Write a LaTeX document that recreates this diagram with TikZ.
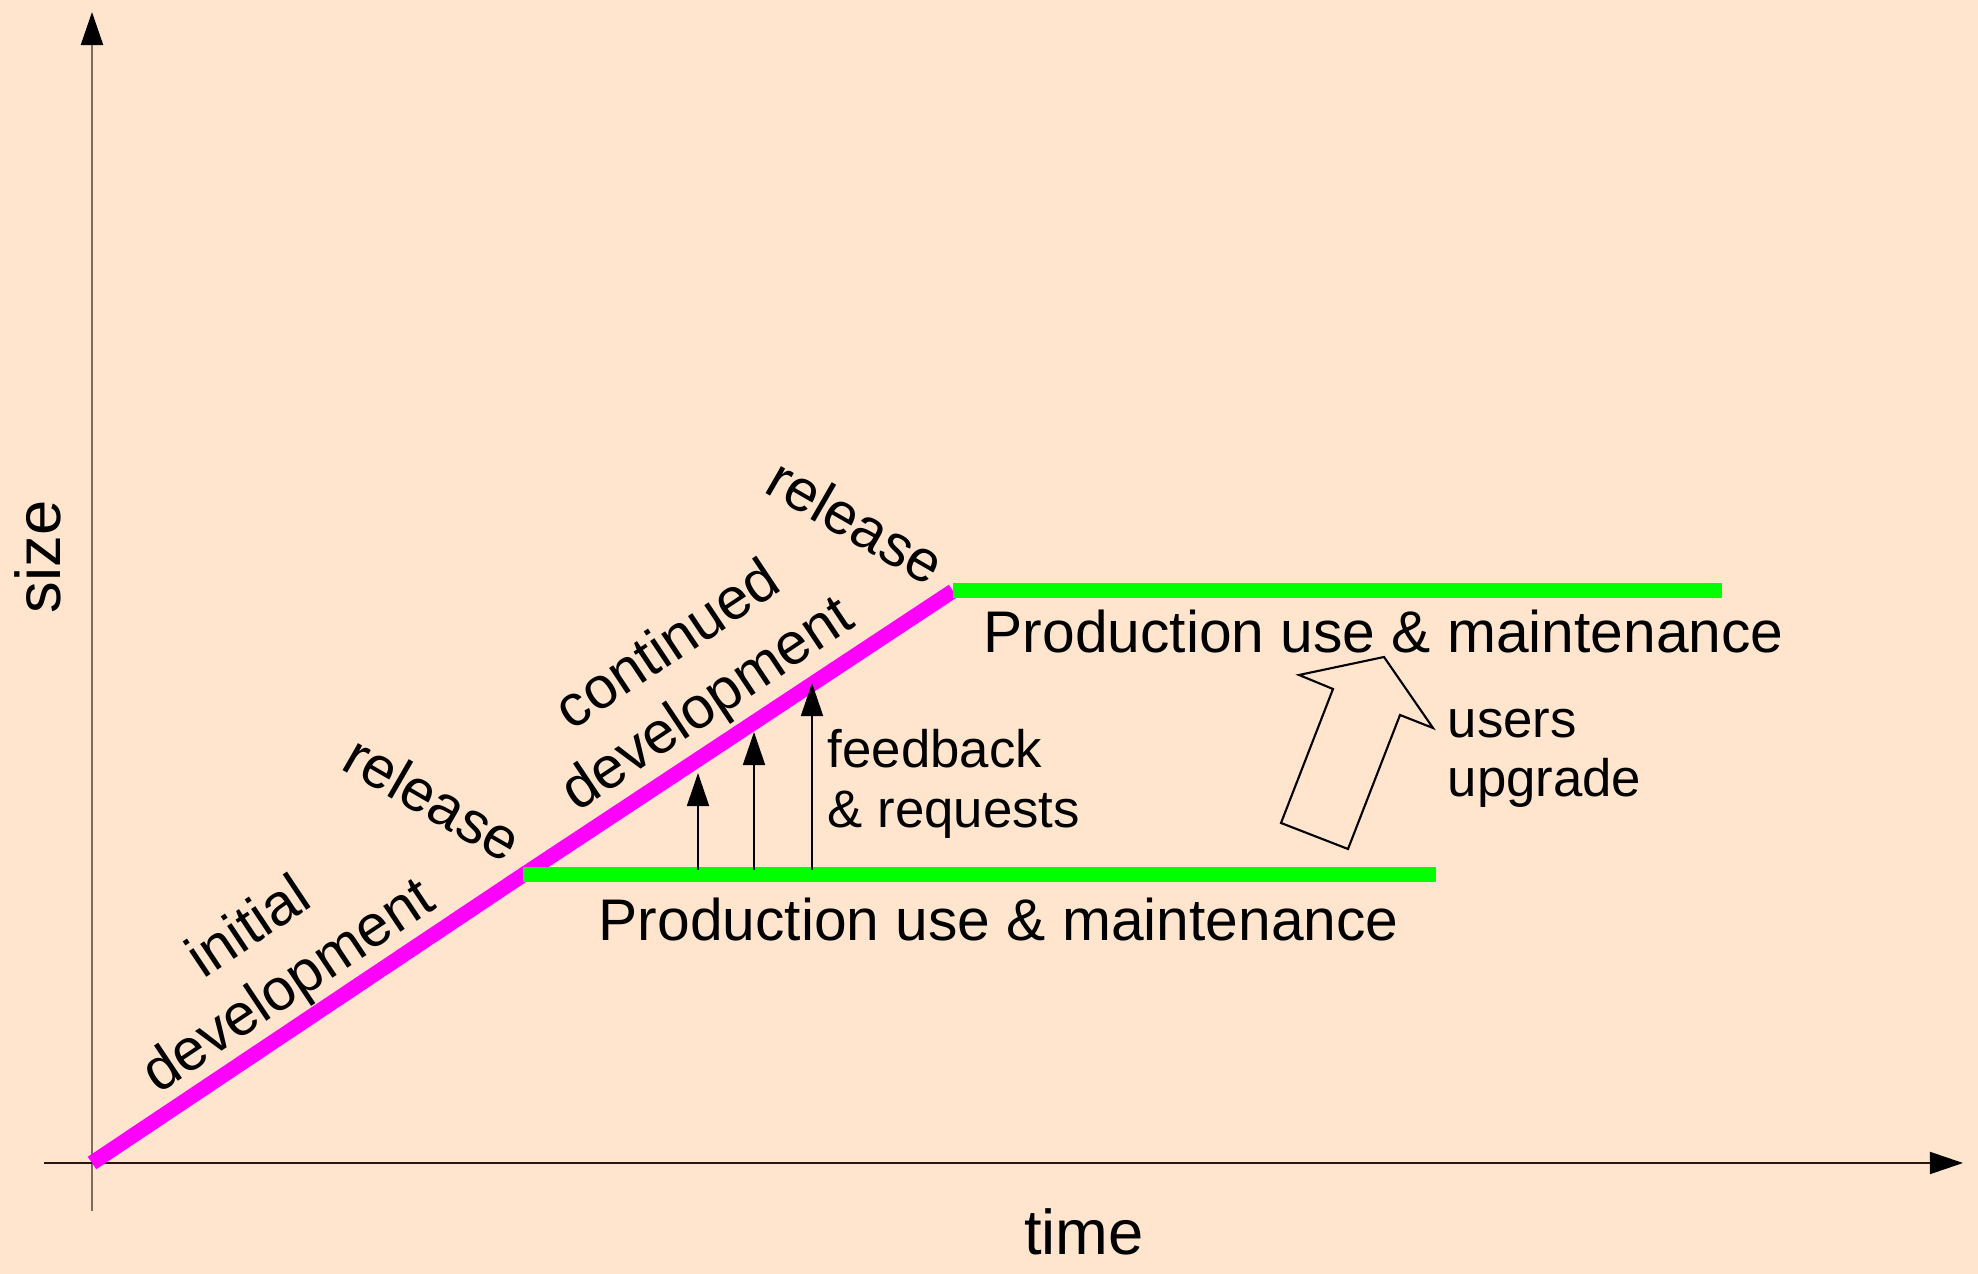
\documentclass[tikz,border=0pt]{standalone}
\usepackage{fontspec}
\setmainfont{Liberation Sans}
\usepackage{tikz}
\usetikzlibrary{arrows.meta,calc}

\definecolor{peach}{RGB}{255,229,206}
\definecolor{devmagenta}{RGB}{255,0,255}
\definecolor{prodgreen}{RGB}{0,255,0}
\definecolor{axisgray}{RGB}{122,110,98}
\definecolor{axisdark}{RGB}{40,22,18}

\tikzset{
  devline/.style={devmagenta,line width=0.15cm},
  prodline/.style={prodgreen,line width=0.15cm},
  biglabel/.style={font=\fontsize{16.7}{20}\selectfont,align=center,inner sep=0pt},
  smalllabel/.style={font=\fontsize{15}{17}\selectfont,align=left,inner sep=0pt},
  axislabel/.style={font=\fontsize{18}{21}\selectfont,inner sep=0pt},
  axistip/.style={-{Triangle[length=0.33cm,width=0.22cm,color=black]}},
  fbarrow/.style={-{Triangle[length=0.33cm,width=0.22cm]},line width=0.5pt},
}

\begin{document}
\begin{tikzpicture}[x=0.01cm,y=-0.01cm]
\useasboundingbox[fill=peach] (0,0) rectangle (1978,1274);

% axes
\coordinate (ybot) at (92,1211);
\coordinate (ytop) at (92,12);
\coordinate (xleft) at (44,1163);
\coordinate (xright) at (1963,1163);
\draw[axistip,axisgray,line width=0.6pt] (ybot) -- (ytop);
\draw[axistip,axisdark,line width=0.5pt] (xleft) -- (xright);
\node[axislabel,rotate=90] (size) at (38,557) {size};
\node[axislabel,anchor=base] (time) at (1084,1255) {time};

% phases
\coordinate (origin) at (92,1163);
\coordinate (rel1) at (523,875);
\coordinate (rel2) at (953,591);
\coordinate (prod1end) at (1436,875);
\coordinate (prod2end) at (1722,591);
\draw[devline] (origin) -- (rel1) -- (rel2);
\draw[prodline] (rel1) -- (prod1end);
\draw[prodline] (rel2) -- (prod2end);

\node[biglabel,rotate=33.7] (initdev) at (270,959) {initial\\development};
\node[biglabel,rotate=33.7] (contdev) at (689,677) {continued\\development};
\node[biglabel,rotate=-30] (release1) at (433,798) {release};
\node[biglabel,rotate=-30] (release2) at (856,521) {release};
\node[biglabel,anchor=base west] (prod1) at (598,941) {Production use \& maintenance};
\node[biglabel,anchor=base west] (prod2) at (983,653) {Production use \& maintenance};

% feedback
\foreach \fx/\fy [count=\i] in {698/773,754/732,812/683}{
  \coordinate (fbfrom\i) at (\fx,870);
  \coordinate (fbto\i) at (\fx,\fy);
  \draw[fbarrow] (fbfrom\i) -- (fbto\i);
}
\node[smalllabel,anchor=north west] (feedback) at (827,729) {feedback\\\& requests};

% upgrade
\draw[line width=0.6pt] (1299,675) -- (1384,657) -- (1433,728) -- (1400,715)
  -- (1348,849) -- (1281,823) -- (1333,689) -- cycle;
\node[smalllabel,anchor=north west] (upgrade) at (1447,708) {users\\upgrade};
\end{tikzpicture}
\end{document}
